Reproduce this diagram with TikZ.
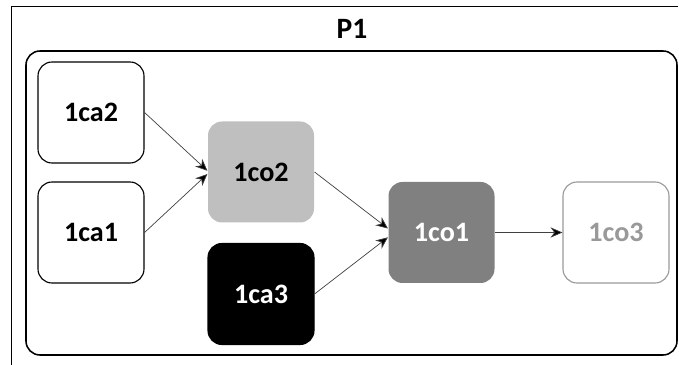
\documentclass[tikz,border=0pt]{standalone}
\usepackage{fontspec}
\setmainfont{Carlito}
\usetikzlibrary{arrows.meta}

\begin{document}
\begin{tikzpicture}[>={Stealth[length=3mm,width=2.6mm,fill=black]},
  box/.style={draw, rounded corners=0.35cm, minimum width=2.65cm, minimum height=2.525cm,
    line width=0.8pt, font=\fontsize{20}{23}\selectfont\bfseries},
  flow/.style={->, line width=0.5pt, draw=black!75}]
\useasboundingbox (0,0) rectangle (16.975,9.125);

% page edge
\draw[line width=0.6pt] (0.275,0) -- (0.275,8.975) -- (16.95,8.975);

\node[font=\fontsize{21}{24}\selectfont\bfseries] (title) at (8.8,8.4){P1};
\draw[line width=1.1pt, rounded corners=0.35cm] (0.65,0.25) rectangle (16.925,7.85);

\node[box] (ca2) at (2.275,6.3125){1ca2};
\node[box] (ca1) at (2.275,3.3125){1ca1};
\node[box, draw=none, fill=black!25] (co2) at (6.525,4.825){1co2};
\node[box, fill=black, text=white] (ca3) at (6.525,1.775){1ca3};
\node[box, draw=none, fill=black!50, text=white] (co1) at (11.0375,3.3125){1co1};
\node[box, draw=black!40, text=black!40] (co3) at (15.4,3.3125){1co3};

\draw[flow] (ca2.east) -- ([yshift=0.03cm]co2.west);
\draw[flow] (ca1.east) -- ([yshift=-0.05cm]co2.west);
\draw[flow] (co2.east) -- ([yshift=0.1cm]co1.west);
\draw[flow] (ca3.east) -- ([yshift=-0.12cm]co1.west);
\draw[flow] (co1) -- (co3);

\end{tikzpicture}
\end{document}
